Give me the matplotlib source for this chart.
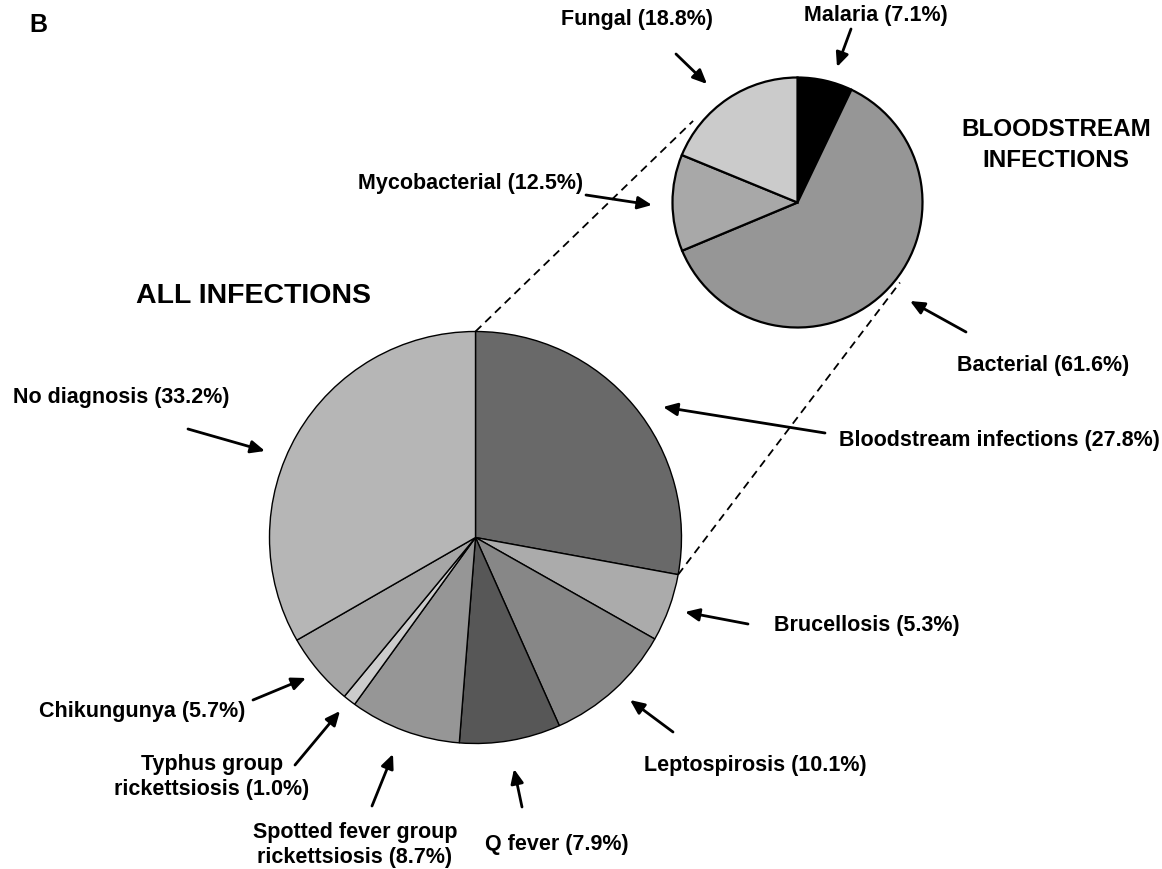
import numpy as np
import matplotlib
matplotlib.use('Agg')
import matplotlib.pyplot as plt

plt.rcParams.update({
    'font.family': ['Liberation Sans', 'DejaVu Sans'],
    'font.weight': 'bold',
})

# ---- data ----------------------------------------------------------------
all_labels = ['Bloodstream infections', 'Brucellosis', 'Leptospirosis', 'Q fever',
              'Spotted fever group\nrickettsiosis', 'Typhus group\nrickettsiosis',
              'Chikungunya', 'No diagnosis']
all_pct = [27.8, 5.3, 10.1, 7.9, 8.7, 1.0, 5.7, 33.2]
all_colors = ['#696969', '#ababab', '#878787', '#575757',
              '#969696', '#cccccc', '#a6a6a6', '#b6b6b6']

bsi_labels = ['Malaria', 'Bacterial', 'Mycobacterial', 'Fungal']
bsi_pct = [7.1, 61.6, 12.5, 18.8]
bsi_colors = ['#000000', '#969696', '#a8a8a8', '#cbcbcb']

W, H = 1162, 870
def Y(y):  # image row -> data y
    return H - y

fig = plt.figure(figsize=(11.62, 8.70), dpi=100)
ax = fig.add_axes([0, 0, 1, 1])

big_c, big_r = (475.5, Y(538.5)), 206
small_c, small_r = (797.5, Y(203.5)), 125

ax.pie(all_pct, colors=all_colors, startangle=90, counterclock=False,
       center=big_c, radius=big_r, frame=True,
       wedgeprops=dict(edgecolor='black', linewidth=1.0))
ax.pie(bsi_pct, colors=bsi_colors, startangle=90, counterclock=False,
       center=small_c, radius=small_r, frame=True,
       wedgeprops=dict(edgecolor='black', linewidth=1.6))

# dashed connectors from the bloodstream wedge to the small pie
a0 = np.deg2rad(90)
a1 = np.deg2rad(90 - 360 * all_pct[0] / sum(all_pct))
for a_big, a_small, ext in [(a0, np.deg2rad(142), 1.06), (a1, np.deg2rad(-38), 1.04)]:
    p0 = (big_c[0] + big_r * np.cos(a_big), big_c[1] + big_r * np.sin(a_big))
    p1 = (small_c[0] + small_r * ext * np.cos(a_small), small_c[1] + small_r * ext * np.sin(a_small))
    ax.plot([p0[0], p1[0]], [p0[1], p1[1]], color='black', lw=1.3, ls=(0, (4.5, 3)))

# labels: (text position in image px, arrow tail, arrow head)
def lab(name, pct):
    return f'{name} ({pct:.1f}%)'

fs = 15.5
all_pos = [
    ((999, 441), (825, 434), (663, 408)),
    ((867, 626), (748, 625), (685, 613)),
    ((755, 766), (673, 733), (630, 701)),
    ((557, 845), (522, 808), (514, 770)),
    ((355, 845), (372, 807), (393, 755)),
    ((212, 777), (295, 766), (340, 712)),
    ((142, 712), (253, 701), (306, 679)),
    ((121, 398), (188, 430), (265, 452)),
]
bsi_pos = [
    ((876, 16), (851, 30), (837, 68)),
    ((1043, 366), (966, 333), (910, 302)),
    ((471, 183), (586, 196), (652, 206)),
    ((637, 19), (676, 55), (707, 85)),
]

for (name, pct), (tp, tail, head) in zip(
        list(zip(all_labels, all_pct)) + list(zip(bsi_labels, bsi_pct)),
        all_pos + bsi_pos):
    ax.text(tp[0], Y(tp[1]), lab(name, pct), ha='center', va='center',
            fontsize=fs, fontweight='bold', linespacing=1.22)
    ax.annotate('', xy=(head[0], Y(head[1])), xytext=(tail[0], Y(tail[1])),
                arrowprops=dict(arrowstyle='-|>,head_length=0.85,head_width=0.38',
                                color='black', lw=2.0, shrinkA=0, shrinkB=0))

ax.text(253, Y(296), 'ALL INFECTIONS', ha='center', va='center',
        fontsize=20.5, fontweight='bold')
ax.text(1056, Y(145), 'BLOODSTREAM\nINFECTIONS', ha='center', va='center',
        fontsize=17.5, fontweight='bold', linespacing=1.4)
ax.text(38, Y(25), 'B', ha='center', va='center', fontsize=18, fontweight='bold')

ax.set_xlim(0, W)
ax.set_ylim(0, H)
ax.set_aspect('equal')
ax.axis('off')

fig.savefig('out.png', dpi=100)
